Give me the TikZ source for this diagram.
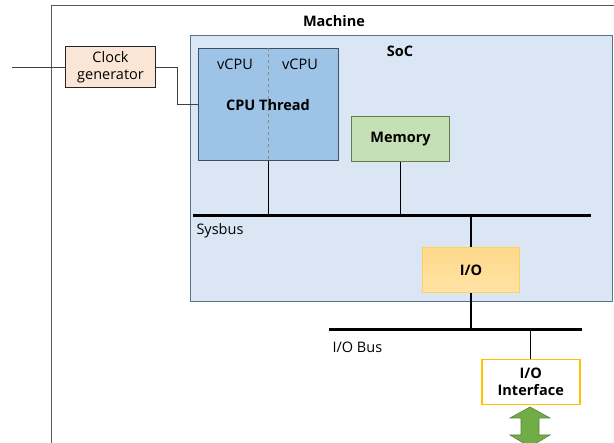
\documentclass[tikz,border=0pt]{standalone}
\usepackage{fontspec}
\setmainfont{Open Sans}
\begin{document}
\begin{tikzpicture}[x=1pt,y=-1pt,
  every node/.style={font=\fontsize{14.5}{17}\selectfont},
  box/.style={draw, line width=1pt, inner sep=0pt},
  lbl/.style={font=\fontsize{14.5}{17}\selectfont},
  bold/.style={font=\fontsize{14.5}{17}\selectfont\bfseries},
  conn/.style={line width=1.1pt, black},
  thin/.style={line width=0.7pt, draw=black!75},
  bus/.style={line width=3pt, black}]
\useasboundingbox (0,0) rectangle (614,443);
\definecolor{socfill}{HTML}{DAE6F3}
\definecolor{socdraw}{HTML}{5B6F8F}
\definecolor{cpufill}{HTML}{9DC3E6}
\definecolor{cpudraw}{HTML}{3E4F66}
\definecolor{clkfill}{HTML}{FBE5D6}
\definecolor{memfill}{HTML}{C5E0B4}
\definecolor{memdraw}{HTML}{5E7F4A}
\definecolor{iotop}{HTML}{FFD98A}
\definecolor{iobot}{HTML}{FFE3A6}
\definecolor{iodraw}{HTML}{FFD15C}
\definecolor{ifdraw}{HTML}{FFC000}
\definecolor{grn}{HTML}{70AD47}
\definecolor{grndraw}{HTML}{548235}
% Machine frame
\coordinate (mbl) at (51,450);
\coordinate (mtl) at (51,6);
\coordinate (mtr) at (620,6);
\draw[line width=1pt, draw=black!65] (mbl) -- (mtl) -- (mtr);
\node[bold] (machine) at (334,21) {Machine};
% SoC
\node[box, draw=socdraw, fill=socfill, minimum width=422pt, minimum height=266pt, anchor=north west] (soc) at (190,35) {};
\node[bold] (soclbl) at (400,51) {SoC};
% CPU thread
\node[box, draw=cpudraw, fill=cpufill, minimum width=140pt, minimum height=112pt, anchor=north west] (cpu) at (198,48) {};
\draw[dashed, draw=black!45, line width=0.8pt] (cpu.north) -- (cpu.south);
\node[lbl] (v1) at (235,64) {vCPU};
\node[lbl] (v2) at (300,64) {vCPU};
\node[bold] (cpulbl) at (268,105) {CPU Thread};
% Clock
\node[box, draw=black!85, fill=clkfill, minimum width=90pt, minimum height=41pt, anchor=north west, align=center] (clk) at (65,46) {Clock\\generator};
\coordinate (clkin) at (12,67);
\draw[thin] (clkin) -- (clk.west);
\draw[thin] (clk.east) -- (177,67) |- (cpu.west);
% Memory
\node[box, draw=memdraw, fill=memfill, minimum width=98pt, minimum height=45pt, anchor=north west, bold] (mem) at (351,116) {Memory};
% Sysbus
\coordinate (sb1) at (193,216);
\coordinate (sb2) at (591,216);
\draw[bus] (sb1) -- (sb2);
\node[lbl, anchor=west] (sblbl) at (193,231) {Sysbus};
\draw[conn] (cpu.south) -- (cpu.south |- sb1);
\draw[conn] (mem.south) -- (mem.south |- sb1);
% I/O
\node[box, draw=iodraw, top color=iotop, bottom color=iobot, minimum width=97pt, minimum height=45pt, anchor=north west, bold] (io) at (422,247) {I/O};
\draw[conn] (io.north |- sb1) -- (io.north);
% I/O bus
\coordinate (ib1) at (329,330);
\coordinate (ib2) at (582,330);
\draw[bus] (ib1) -- (ib2);
\node[lbl, anchor=west] (iblbl) at (329,347) {I/O Bus};
\draw[conn] (io.south) -- (io.south |- ib1);
% I/O interface
\node[box, draw=ifdraw, line width=1.5pt, fill=white, minimum width=98pt, minimum height=45pt, anchor=north west, align=center, font=\fontsize{14.5}{17}\selectfont\bfseries] (ioif) at (481,359) {I/O\\Interface};
\draw[conn] (ioif.north |- ib1) -- (ioif.north);
% green double arrow
\draw[fill=grn, draw=grndraw, line width=0.6pt]
  (530,407) -- (550,418) -- (539,418) -- (539,435) -- (550,435) -- (530,447)
  -- (510,435) -- (521,435) -- (521,418) -- (510,418) -- cycle;
\end{tikzpicture}
\end{document}
